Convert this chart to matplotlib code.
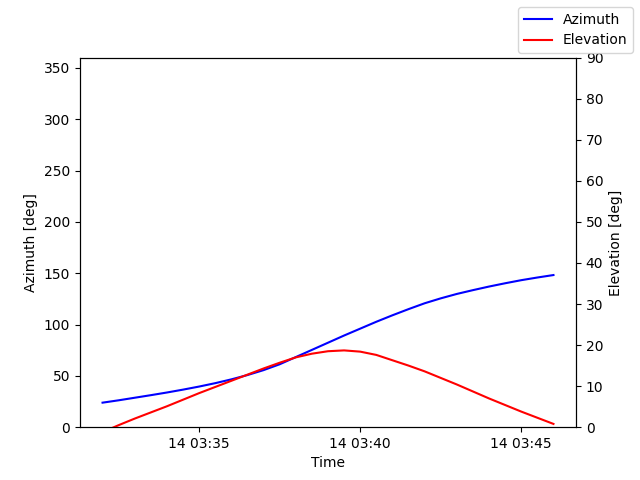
import numpy as np
import matplotlib
matplotlib.use("Agg")
from matplotlib import pyplot as plt

# one sample every 30 s over the pass, 03:32:00 .. 03:46:00
times = np.arange(np.datetime64("2023-03-14T03:32:00"), np.datetime64("2023-03-14T03:46:01"),
                  np.timedelta64(30, "s"))

azimuth = [23.9, 26.2, 28.7, 31.2, 33.8, 36.6, 39.6, 42.9, 46.6, 50.8,
           55.6, 61.3, 68.3, 75.3, 82.3, 89.3, 96.0, 102.7, 109.0, 115.0,
           120.7, 125.5, 129.8, 133.5, 137.0, 140.2, 143.2, 145.8, 148.2]
elevation = [-1.2, 0.5, 2.1, 3.6, 5.1, 6.7, 8.3, 9.8, 11.3, 12.8,
             14.3, 15.7, 17.0, 17.9, 18.5, 18.7, 18.4, 17.6, 16.3, 15.0,
             13.6, 12.0, 10.4, 8.7, 7.0, 5.4, 3.8, 2.3, 0.8]

fig, ax = plt.subplots(figsize=(6.4, 4.8), dpi=100)
ax2 = ax.twinx()

ax.plot(times, azimuth, color="b", label="Azimuth")
ax2.plot(times, elevation, color="r", label="Elevation")

ax.set_ylim(0, 360)
ax2.set_ylim(0, 90)
ax.set_xlabel("Time")
ax.set_ylabel("Azimuth [deg]")
ax2.set_ylabel("Elevation [deg]")

fig.legend()
fig.savefig("out.png")
